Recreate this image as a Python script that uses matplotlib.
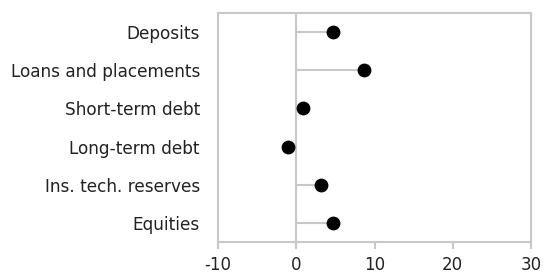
import matplotlib
matplotlib.use("Agg")
import matplotlib.pyplot as plt

# categories top to bottom
categories = ["Deposits", "Loans and placements", "Short-term debt",
              "Long-term debt", "Ins. tech. reserves", "Equities"]
values = [4.7, 8.6, 0.9, -1.1, 3.2, 4.7]
xticks = [-10, 0, 10, 20, 30]

grey = "#c8c8c8"
txt = "#222222"

fig = plt.figure(figsize=(5.47, 2.73), dpi=100)
ax = fig.add_axes([218 / 547, 31 / 273, 313 / 547, 229 / 273])

ypos = list(range(len(categories)))[::-1]
ax.hlines(ypos, 0, values, color=grey, lw=1.5, zorder=1)
ax.axvline(0, color=grey, lw=1.5, zorder=1)
ax.scatter(values, ypos, s=80, color="black", zorder=3)

ax.set_xlim(-10, 30)
ax.set_ylim(-0.5, 5.5)
ax.set_xticks(xticks)
ax.set_xticklabels([str(t) for t in xticks])
ax.set_yticks(ypos)
ax.set_yticklabels(categories)

for s in ax.spines.values():
    s.set_color(grey)
    s.set_linewidth(1.5)

ax.tick_params(axis="x", colors=grey, length=5, width=1.5, labelcolor=txt,
               labelsize=12, pad=5)
ax.tick_params(axis="y", length=0, labelcolor=txt, labelsize=12.2, pad=13)
for lab in ax.get_xticklabels() + ax.get_yticklabels():
    lab.set_fontfamily("DejaVu Sans")

fig.savefig("out.png", dpi=100)
